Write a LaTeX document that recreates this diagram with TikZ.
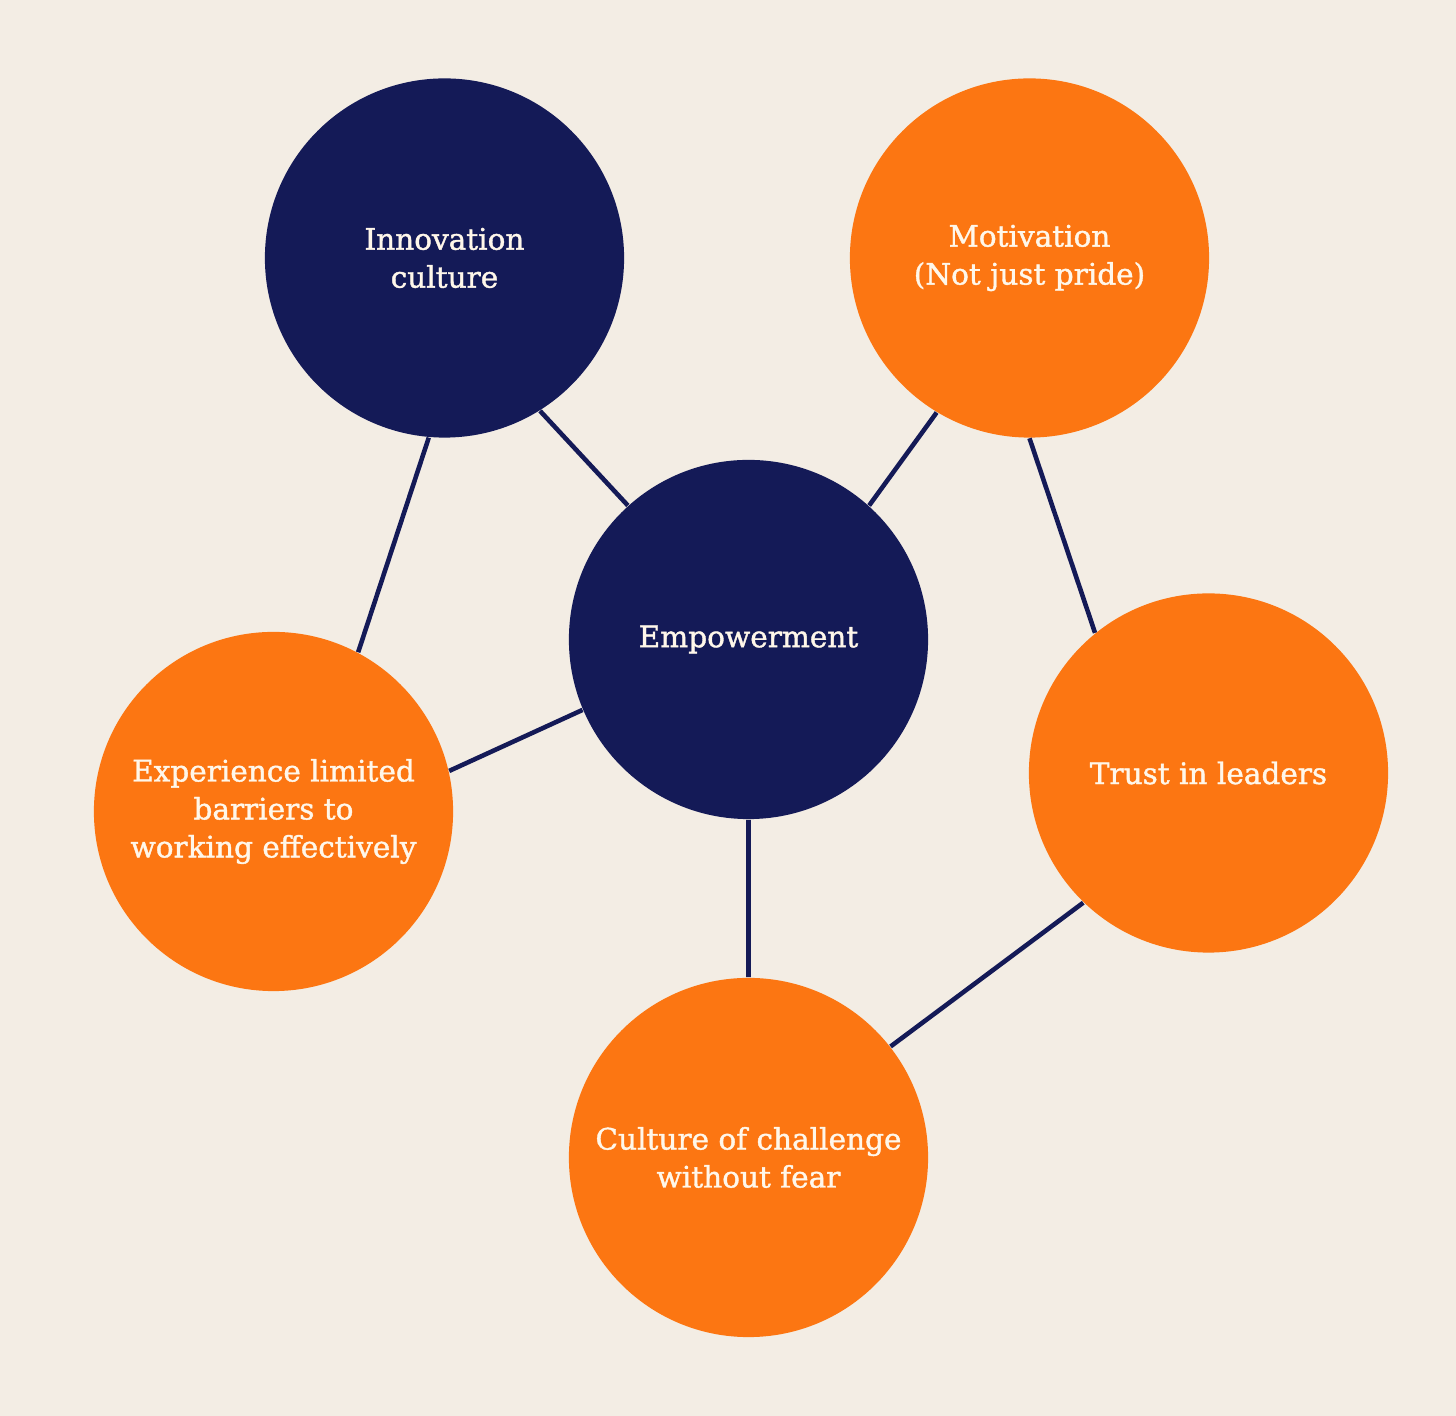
\documentclass[tikz,border=0pt]{standalone}
\usepackage{fontspec}
\setmainfont{DejaVu Serif}
\newfontfamily\bubblefont{DejaVu Serif}[BoldFont={DejaVu Serif}, BoldFeatures={FakeBold=1.3}]
\usepackage{tikz}

\definecolor{navy}{RGB}{20,26,87}
\definecolor{tangerine}{RGB}{252,118,18}
\definecolor{paper}{RGB}{243,237,228}
\definecolor{cream}{RGB}{255,247,234}

\tikzset{
	bubble/.style={circle, minimum size=3.59cm, inner sep=0pt, align=center,
		text=cream, font=\bubblefont\bfseries\fontsize{8.4}{10.8}\selectfont},
	navybubble/.style={bubble, fill=navy},
	orangebubble/.style={bubble, fill=tangerine},
	link/.style={draw=navy, line width=1.3pt}
}

\begin{document}
\begin{tikzpicture}[x=0.01cm, y=-0.01cm]
					\fill[paper] (0,0) rectangle (1456,1416);
					\useasboundingbox (0,0) rectangle (1456,1416);

					\draw
						(444.5,258) node[navybubble] (innov) {Innovation\\culture}
						(1029.5,258) node[orangebubble] (motiv) {Motivation\\(Not just pride)}
						(748.5,639.5) node[navybubble] (empow) {Empowerment}
						(273.5,811.5) node[orangebubble] (exper) {Experience limited\\barriers to\\working effectively}
						(1208.5,773) node[orangebubble] (trust) {Trust in leaders}
						(748.5,1157.5) node[orangebubble] (chall) {Culture of challenge\\without fear};

					\draw[link]
						(innov.302) -- (empow.132)
						(motiv.239) -- (empow.48)
						(innov.265) -- (exper.62)
						(motiv.270) -- (trust.129);

					\draw[link]
						(empow.203) -- (exper.13)
						(empow.270) -- (chall.90)
						(trust.226) -- (chall.38);
				\end{tikzpicture}
\end{document}
